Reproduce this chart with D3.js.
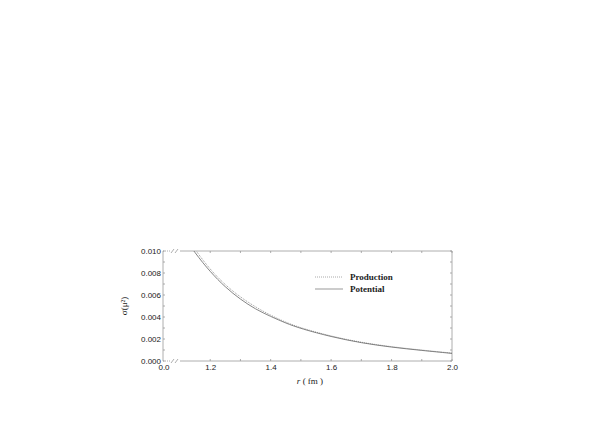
<!DOCTYPE html>
<html>
<head>
<meta charset="utf-8">
<script src="https://cdn.jsdelivr.net/npm/d3@7"></script>
<style>
  body { margin: 0; background: #fff; }
  svg { display: block; }
  .tick text { font-family: "Liberation Sans", Arial, sans-serif; font-size: 8px; fill: #222; }
</style>
</head>
<body>
<svg id="plot"></svg>
<script>
const width = 611;
const height = 422;

// r in fm
const radius = [1.10, 1.15, 1.20, 1.25, 1.30, 1.35, 1.40, 1.45, 1.50, 1.60, 1.70, 1.80, 1.90, 2.00];
const production = [0.0122, 0.0101, 0.0083, 0.0069, 0.0058, 0.0049, 0.00415, 0.00352, 0.00300, 0.00225, 0.00168, 0.00129, 0.00099, 0.00072];
const potential  = [0.0118, 0.0098, 0.0081, 0.0067, 0.0056, 0.0047, 0.00405, 0.00344, 0.00294, 0.00220, 0.00164, 0.00125, 0.00096, 0.00069];
const xTicks = [1.2, 1.4, 1.6, 1.8, 2.0];
const yTicks = [0, 0.002, 0.004, 0.006, 0.008, 0.010];
const seriesNames = ["Production", "Potential"];

const pLeft = 163, pRight = 452, pTop = 251, pBottom = 361;

const svg = d3.select("#plot")
  .attr("width", width)
  .attr("height", height);

const x = d3.scaleLinear().domain([1.1, 2.0]).range([180, pRight]);
const y = d3.scaleLinear().domain([0, 0.010]).range([pBottom, pTop]);

svg.append("defs").append("clipPath").attr("id", "clip")
  .append("rect")
  .attr("x", pLeft).attr("y", pTop)
  .attr("width", pRight - pLeft).attr("height", pBottom - pTop);

const axisColor = "#999";

// axes with inward ticks
const minorX = d3.range(1.2, 2.001, 0.1);
const minorY = d3.range(0, 0.0101, 0.001);

const gx = svg.append("g").attr("transform", `translate(0,${pBottom})`)
  .call(d3.axisBottom(x).tickValues(xTicks).tickFormat(d3.format(".1f")).tickSize(0).tickPadding(3));
gx.select(".domain").remove();

const gy = svg.append("g").attr("transform", `translate(${pLeft},0)`)
  .call(d3.axisLeft(y).tickValues(yTicks).tickFormat(d3.format(".3f")).tickSize(0).tickPadding(2));
gy.select(".domain").remove();

// "0.0" at the broken start of the x axis
svg.append("text")
  .attr("x", pLeft + 1).attr("y", pBottom + 3)
  .attr("dy", "0.71em")
  .attr("text-anchor", "middle")
  .style("font-family", "Liberation Sans, Arial, sans-serif")
  .style("font-size", "8px").attr("fill", "#222")
  .text("0.0");

const frame = svg.append("g").attr("stroke", axisColor).attr("stroke-width", 0.8).attr("fill", "none");

// left and right borders
frame.append("line").attr("x1", pLeft).attr("x2", pLeft).attr("y1", pTop).attr("y2", pBottom);
frame.append("line").attr("x1", pRight).attr("x2", pRight).attr("y1", pTop).attr("y2", pBottom);

// top and bottom borders with break
[pTop, pBottom].forEach(yy => {
  frame.append("line").attr("x1", pLeft).attr("x2", 170).attr("y1", yy).attr("y2", yy)
    .attr("stroke-dasharray", "1,1");
  frame.append("line").attr("x1", 171).attr("x2", 174).attr("y1", yy + 2).attr("y2", yy - 2);
  frame.append("line").attr("x1", 175).attr("x2", 178).attr("y1", yy + 2).attr("y2", yy - 2);
  frame.append("line").attr("x1", 180).attr("x2", pRight).attr("y1", yy).attr("y2", yy);
});

minorX.forEach(v => {
  frame.append("line").attr("x1", x(v)).attr("x2", x(v)).attr("y1", pBottom).attr("y2", pBottom - 2);
  frame.append("line").attr("x1", x(v)).attr("x2", x(v)).attr("y1", pTop).attr("y2", pTop + 2);
});
minorY.forEach(v => {
  frame.append("line").attr("x1", pLeft).attr("x2", pLeft + 2).attr("y1", y(v)).attr("y2", y(v));
  frame.append("line").attr("x1", pRight).attr("x2", pRight - 2).attr("y1", y(v)).attr("y2", y(v));
});

// curves
const line = d3.line()
  .x((d, i) => x(radius[i]))
  .y(d => y(d))
  .curve(d3.curveBasis);

const curves = svg.append("g").attr("clip-path", "url(#clip)").attr("fill", "none");

curves.append("path")
  .datum(production)
  .attr("stroke", "#999")
  .attr("stroke-width", 1)
  .attr("stroke-dasharray", "1,1")
  .attr("d", line);

curves.append("path")
  .datum(potential)
  .attr("stroke", "#666")
  .attr("stroke-width", 0.8)
  .attr("d", line);

// legend
const legend = svg.append("g");
seriesNames.forEach((name, i) => {
  const ly = 277 + i * 12;
  legend.append("line")
    .attr("x1", 315).attr("x2", 343).attr("y1", ly).attr("y2", ly)
    .attr("stroke", i === 0 ? "#aaa" : "#999")
    .attr("stroke-width", 1)
    .attr("stroke-dasharray", i === 0 ? "1,1" : null);
  legend.append("text")
    .attr("x", 350).attr("y", ly).attr("dy", "0.35em")
    .style("font-family", "Liberation Serif, Times New Roman, serif")
    .style("font-size", "9px").style("font-weight", "bold")
    .attr("fill", "#222")
    .text(name);
});

// axis titles
const xt = svg.append("text")
  .attr("x", 310).attr("y", 384)
  .attr("text-anchor", "middle")
  .style("font-family", "Liberation Serif, Times New Roman, serif")
  .style("font-size", "9px")
  .attr("fill", "#222");
xt.append("tspan").style("font-style", "italic").text("r");
xt.append("tspan").text("  ( fm )");

svg.append("text")
  .attr("transform", `translate(124,${(pTop + pBottom) / 2}) rotate(-90)`)
  .attr("text-anchor", "middle")
  .attr("dy", "0.35em")
  .style("font-family", "Liberation Serif, Times New Roman, serif")
  .style("font-size", "9px")
  .attr("fill", "#222")
  .text("σ(μ²)");
</script>
</body>
</html>
